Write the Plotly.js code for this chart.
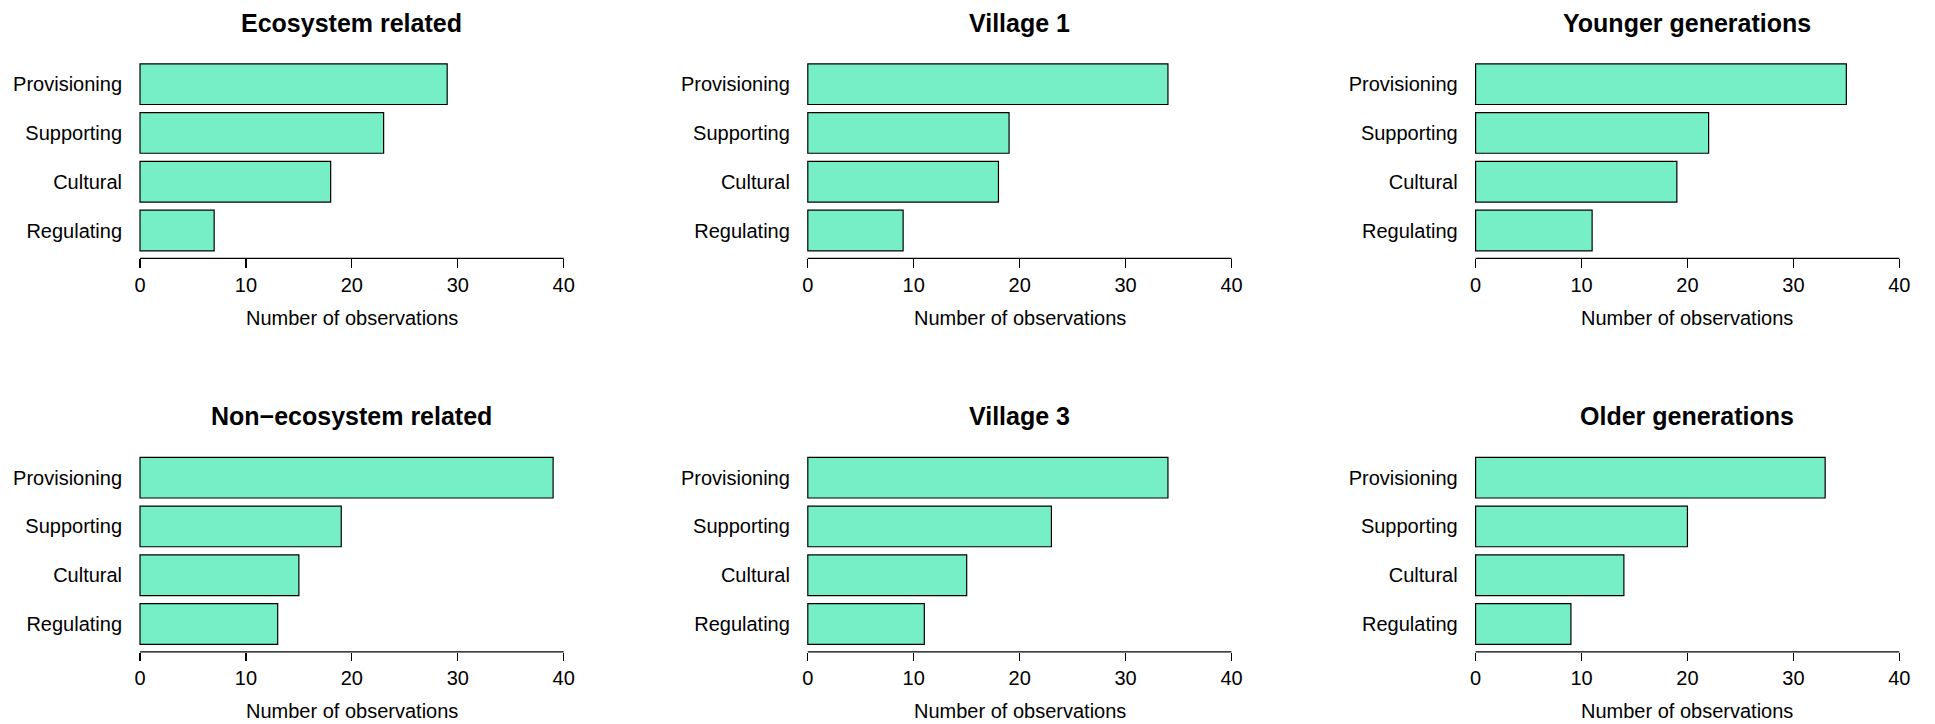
<!DOCTYPE html>
<html>
<head>
<meta charset="utf-8">
<script src="https://cdn.plot.ly/plotly-3.0.1.min.js"></script>
<style>html,body{margin:0;padding:0;background:#fff;}#chart{width:1935px;height:724px;}</style>
</head>
<body>
<div id="chart"></div>
<script>
// ---- data ----
const categories = ['Provisioning', 'Supporting', 'Cultural', 'Regulating'];
const panelTitles = ['Ecosystem related', 'Village 1', 'Younger generations',
                     'Non\u2212ecosystem related', 'Village 3', 'Older generations'];
const ecosystemRelated    = [29, 23, 18, 7];
const village1            = [34, 19, 18, 9];
const youngerGenerations  = [35, 22, 19, 11];
const nonEcosystemRelated = [39, 19, 15, 13];
const village3            = [34, 23, 15, 11];
const olderGenerations    = [33, 20, 14, 9];
const xTickVals = [0, 10, 20, 30, 40];
const xAxisTitle = 'Number of observations';

const panelValues = [ecosystemRelated, village1, youngerGenerations,
                     nonEcosystemRelated, village3, olderGenerations];

// ---- layout geometry (pixels) ----
const W = 1935, H = 724;
const FONT = 'Liberation Sans, Arial, Helvetica, sans-serif';
const colLeft = 123.05, colRight = 580.65, colStep = 667.8;
const rowTop = 56.37, rowBottom = 258.3, rowStep = 393.5;
const px = v => v / W;
const py = v => 1 - v / H;

const traces = [];
const layout = {
  width: W, height: H,
  margin: {l: 0, r: 0, t: 0, b: 0},
  paper_bgcolor: '#ffffff', plot_bgcolor: '#ffffff',
  showlegend: false,
  bargap: 1 / 6,
  font: {family: FONT, size: 20, color: '#000'},
  annotations: [],
  shapes: []
};

panelValues.forEach((vals, i) => {
  const r = Math.floor(i / 3), c = i % 3;
  const n = i === 0 ? '' : String(i + 1);
  const xa = 'x' + n, ya = 'y' + n;
  traces.push({
    type: 'bar', orientation: 'h',
    x: vals, y: categories,
    xaxis: xa, yaxis: ya,
    marker: {color: '#76EEC6', line: {color: '#000', width: 1.2}},
    hoverinfo: 'x+y'
  });
  layout['xaxis' + n] = {
    domain: [px(colLeft + c * colStep), px(colRight + c * colStep)],
    anchor: ya,
    range: [-1.6, 41.6],
    tickvals: xTickVals,
    ticktext: xTickVals.map(String),
    ticks: 'outside', ticklen: 8.5, tickwidth: 1.2, tickcolor: '#000',
    showline: false, showgrid: false, zeroline: false,
    tickfont: {family: FONT, size: 20, color: '#000'},
    fixedrange: true
  };
  layout['yaxis' + n] = {
    domain: [py(rowBottom + r * rowStep), py(rowTop + r * rowStep)],
    anchor: xa,
    type: 'category',
    categoryorder: 'array',
    categoryarray: categories.slice().reverse(),
    range: [-0.57, 3.57],
    ticks: '', showline: false, showgrid: false, zeroline: false,
    ticklabelshift: -1.2,
    tickfont: {family: FONT, size: 20, color: '#000'},
    fixedrange: true
  };
  // axis line from first to last tick
  layout.shapes.push({
    type: 'line', xref: xa, yref: ya + ' domain',
    x0: xTickVals[0], x1: xTickVals[xTickVals.length - 1], y0: 0, y1: 0,
    line: {color: '#000', width: 1.2}
  });
  // panel title
  layout.annotations.push({
    text: '<b>' + panelTitles[i] + '</b>',
    xref: xa + ' domain', x: 0.5, xanchor: 'center',
    yref: 'paper', y: py(22.8 + r * rowStep), yanchor: 'middle',
    showarrow: false,
    font: {family: FONT, size: 25, color: '#000'}
  });
  // x axis title
  layout.annotations.push({
    text: xAxisTitle,
    xref: xa + ' domain', x: 0.5, xanchor: 'center',
    yref: 'paper', y: py(317.7 + r * rowStep), yanchor: 'middle',
    showarrow: false,
    font: {family: FONT, size: 20, color: '#000'}
  });
});

Plotly.newPlot('chart', traces, layout, {displayModeBar: false, staticPlot: true});
</script>
</body>
</html>
